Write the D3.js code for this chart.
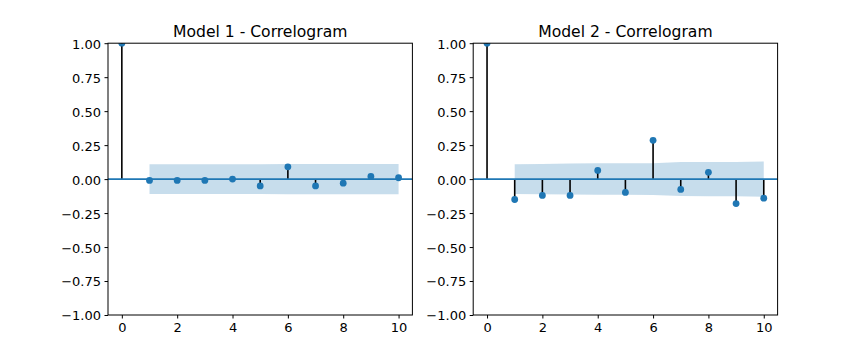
<!DOCTYPE html>
<html><head><meta charset="utf-8">
<script src="https://cdn.jsdelivr.net/npm/d3@7"></script>
<style>body{margin:0;background:#fff}svg{display:block}text{font-family:"DejaVu Sans",sans-serif}</style>
</head><body><svg id="c" width="864" height="360"></svg>
<script>
const lags = [0,1,2,3,4,5,6,7,8,9,10];
const titles = ["Model 1 - Correlogram", "Model 2 - Correlogram"];
const acf1 = [1.0, -0.01, -0.01, -0.01, 0.0, -0.05, 0.09, -0.05, -0.03, 0.02, 0.01];
const acf2 = [1.0, -0.15, -0.12, -0.12, 0.064, -0.098, 0.285, -0.076, 0.05, -0.18, -0.14];
// confidence half-widths for lags 1..10
const conf1 = [0.110, 0.110, 0.110, 0.110, 0.110, 0.111, 0.111, 0.112, 0.112, 0.112];
const conf2 = [0.110, 0.112, 0.114, 0.116, 0.116, 0.117, 0.125, 0.126, 0.126, 0.130];
const yTicks = [-1, -0.75, -0.5, -0.25, 0, 0.25, 0.5, 0.75, 1];
const xTicks = [0, 2, 4, 6, 8, 10];

(function () {
const svg = d3.select("#c");
const C0 = "#1f77b4";
const panels = [
  {x0: 108, x1: 412.4, acf: acf1, conf: conf1, title: titles[0]},
  {x0: 473.2, x1: 777.6, acf: acf2, conf: conf2, title: titles[1]}
];
const yTop = 43.2, yBot = 315;
const fmt = v => d3.format(".2f")(v).replace("-", "\u2212");

panels.forEach((p, i) => {
  const x = d3.scaleLinear().domain([-0.5, 10.5]).range([p.x0, p.x1]);
  const y = d3.scaleLinear().domain([-1, 1]).range([yBot, yTop]);
  const g = svg.append("g");
  const clipId = "clip" + i;
  svg.append("defs").append("clipPath").attr("id", clipId)
    .append("rect").attr("x", p.x0).attr("y", yTop).attr("width", p.x1 - p.x0).attr("height", yBot - yTop);
  const plot = g.append("g").attr("clip-path", `url(#${clipId})`);

  const band = lags.slice(1).map((l, k) => ({l, c: p.conf[k]}));
  plot.append("path")
    .attr("d", d3.area().x(d => x(d.l)).y0(d => y(-d.c)).y1(d => y(d.c))(band))
    .attr("fill", C0).attr("fill-opacity", 0.25);

  plot.selectAll("line.stem").data(lags).join("line")
    .attr("x1", d => x(d)).attr("x2", d => x(d))
    .attr("y1", y(0)).attr("y2", d => y(p.acf[d]))
    .attr("stroke", "#000").attr("stroke-width", 1.6);

  plot.append("line").attr("x1", p.x0).attr("x2", p.x1)
    .attr("y1", y(0)).attr("y2", y(0)).attr("stroke", C0).attr("stroke-width", 1.8);

  plot.selectAll("circle").data(lags).join("circle")
    .attr("cx", d => x(d)).attr("cy", d => y(p.acf[d])).attr("r", 3.4)
    .attr("fill", C0);

  g.append("rect").attr("x", p.x0).attr("y", yTop).attr("width", p.x1 - p.x0).attr("height", yBot - yTop)
    .attr("fill", "none").attr("stroke", "#000").attr("stroke-width", 1);

  const ya = d3.axisLeft(y).tickValues(yTicks).tickFormat(fmt).tickSize(3.5).tickPadding(3.5);
  const yg = g.append("g").attr("transform", `translate(${p.x0},0)`).call(ya);
  const xa = d3.axisBottom(x).tickValues(xTicks).tickFormat(d3.format("d")).tickSize(3.5).tickPadding(3.5);
  const xg = g.append("g").attr("transform", `translate(0,${yBot})`).call(xa);
  [yg, xg].forEach(a => {
    a.select(".domain").remove();
    a.selectAll(".tick line").attr("stroke", "#000").attr("stroke-width", 1);
    a.selectAll(".tick text").attr("fill", "#000").style("font-size", "13px").style("font-family", "DejaVu Sans");
  });
  yg.selectAll(".tick text").attr("dy", "0.38em");
  xg.selectAll(".tick text").attr("dy", "0.74em");

  g.append("text").attr("x", (p.x0 + p.x1) / 2).attr("y", 36.6).attr("text-anchor", "middle")
    .style("font-size", "15.6px").attr("fill", "#000").text(p.title);
});
})();
</script></body></html>
